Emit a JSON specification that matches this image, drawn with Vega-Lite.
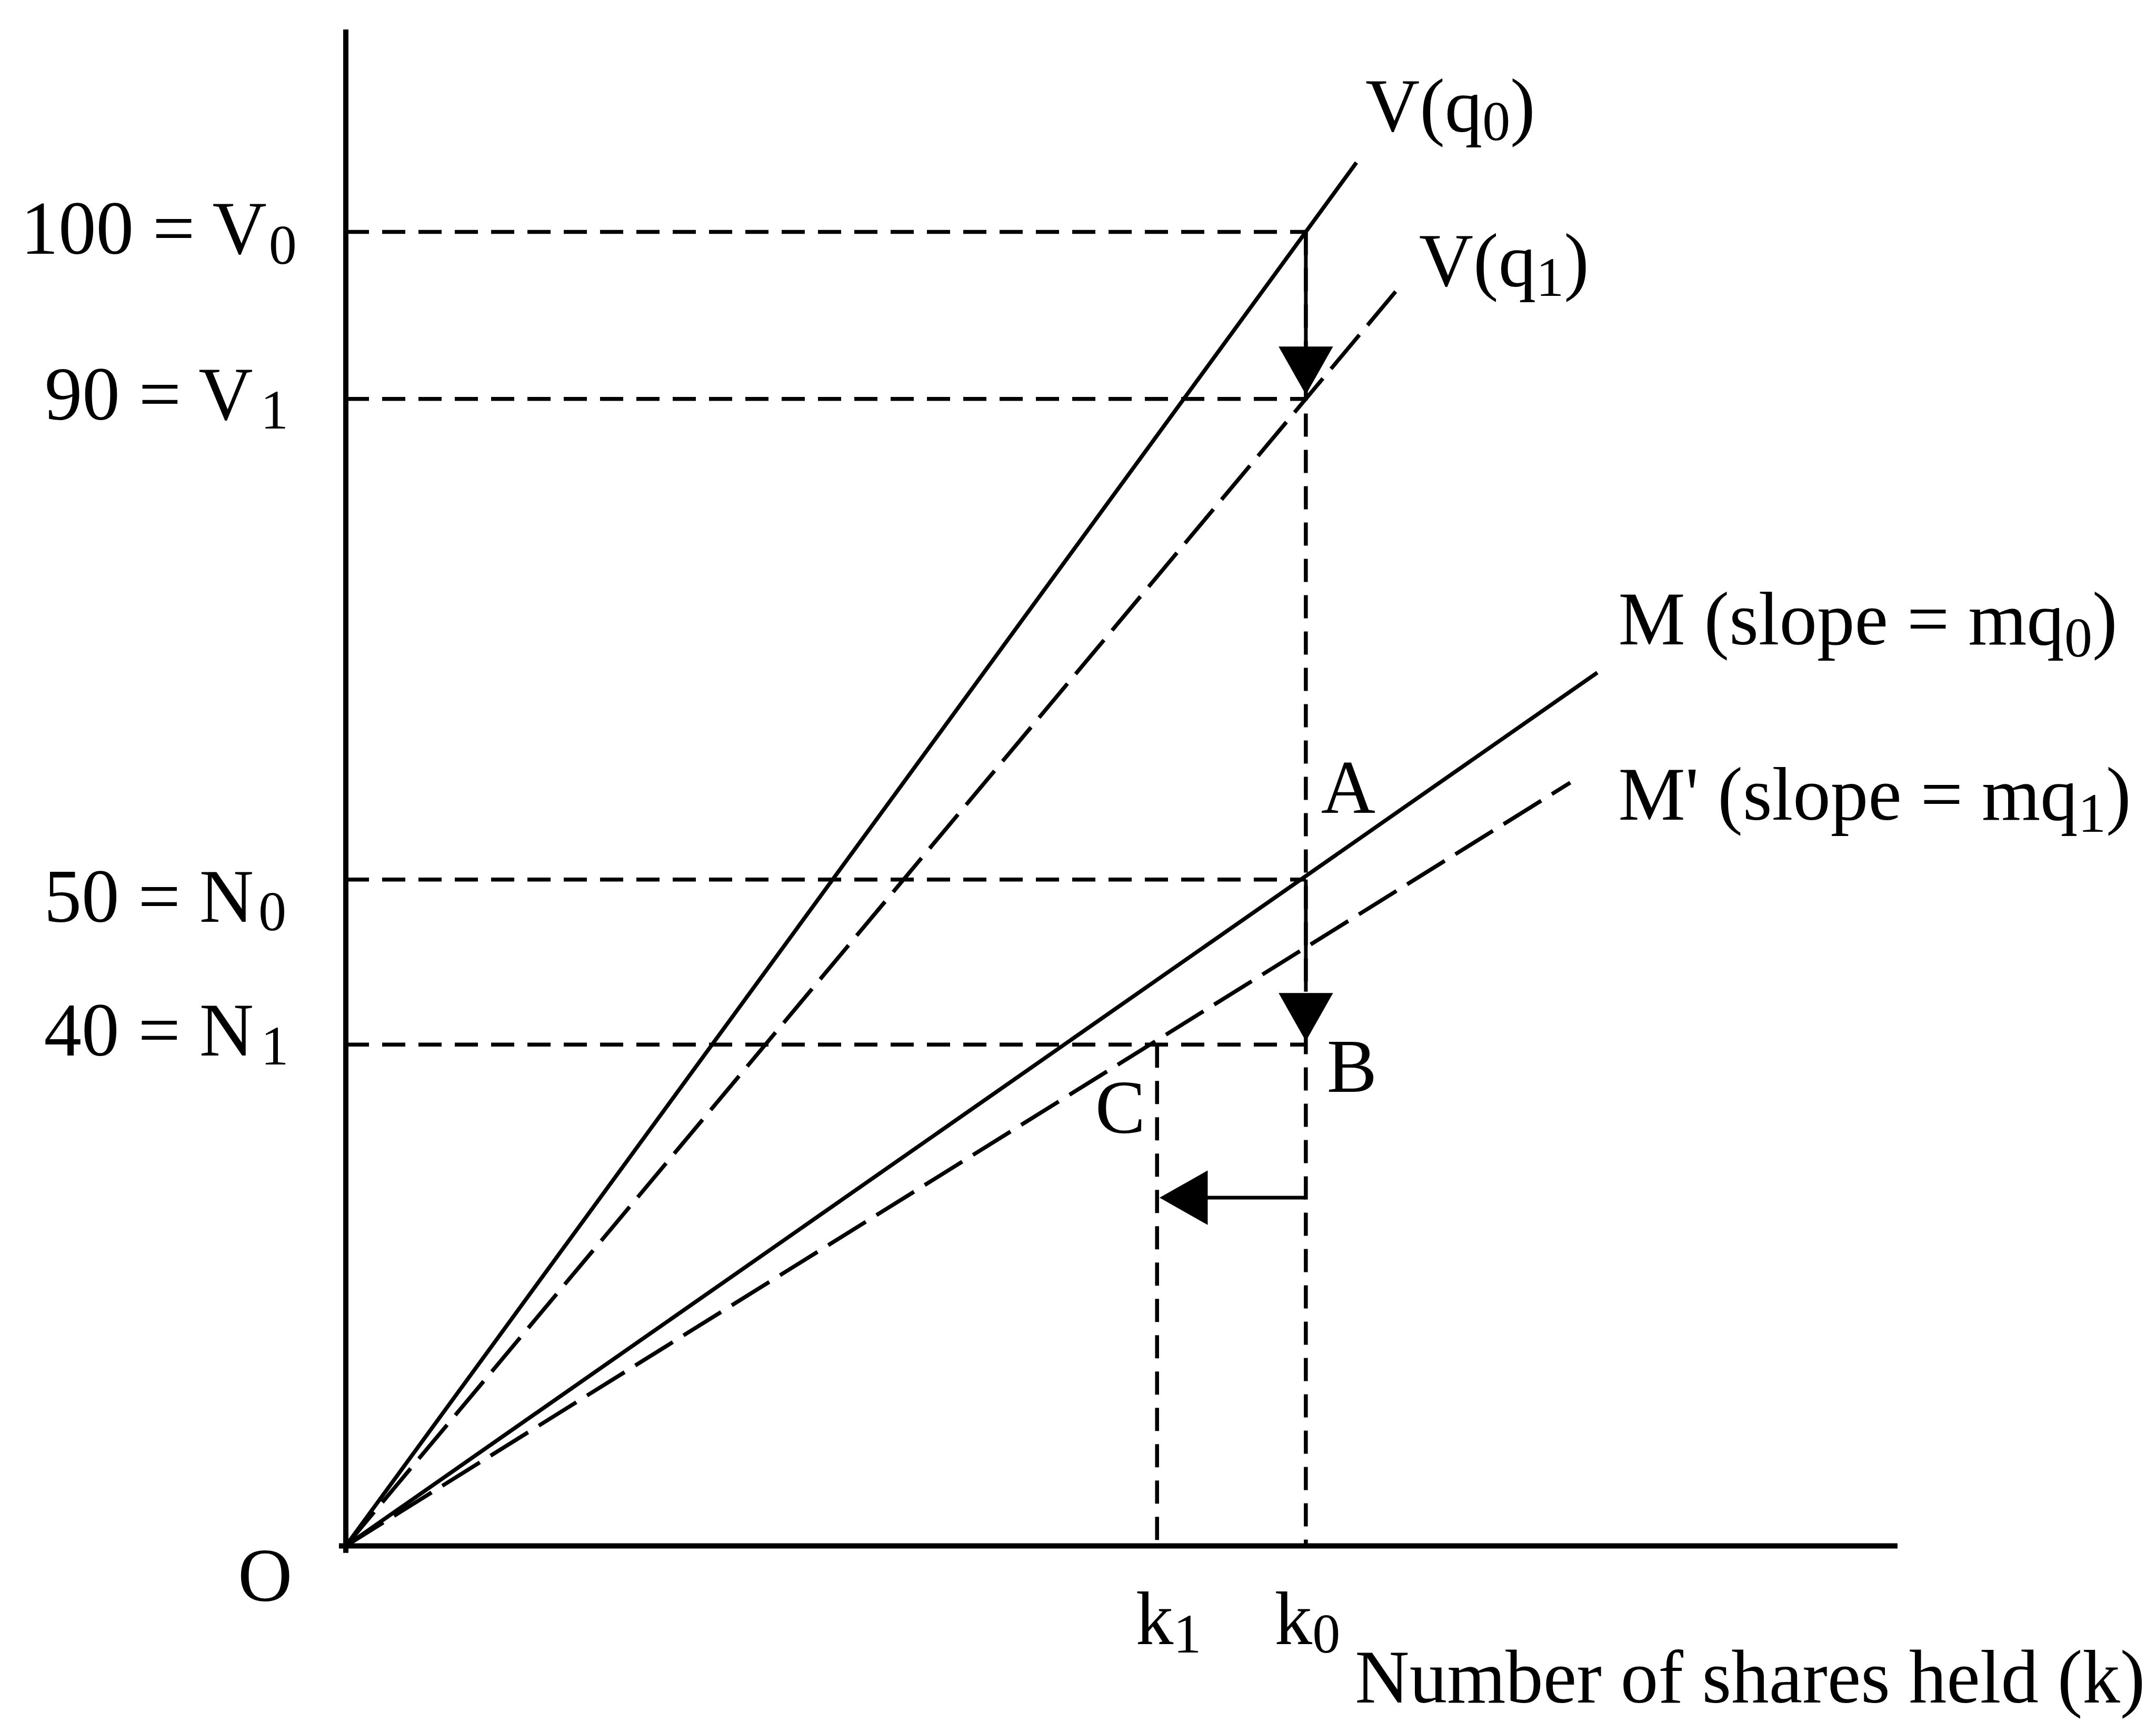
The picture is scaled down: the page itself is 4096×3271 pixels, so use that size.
{
  "$schema": "https://vega.github.io/schema/vega-lite/v6.json",
  "width": 4096,
  "height": 3271,
  "padding": 0,
  "autosize": {"type": "none"},
  "background": "white",
  "config": {"view": {"stroke": null}, "text": {"font": "Liberation Serif", "color": "black"}},
  "datasets": {
    "segments": [
      {"kind": "axis", "name": "vertical axis", "x": 0, "y": -5, "x2": 0, "y2": 1102.6},
      {"kind": "axis", "name": "horizontal axis", "x": -5, "y": 0, "x2": 1128.5, "y2": 0},
      {"kind": "line", "name": "V(q0)", "x": 0, "y": 0, "x2": 735, "y2": 1005.8},
      {"kind": "line", "name": "M", "x": 0, "y": 0, "x2": 910.2, "y2": 635},
      {"kind": "shifted", "name": "V(q1)", "x": 0, "y": 0, "x2": 763.5, "y2": 912},
      {"kind": "shifted", "name": "M'", "x": 0, "y": 0, "x2": 890.5, "y2": 555},
      {"kind": "guide", "name": "V0", "x": 0, "y": 955.4, "x2": 698.2, "y2": 955.4},
      {"kind": "guide", "name": "V1", "x": 0, "y": 834, "x2": 698.2, "y2": 834},
      {"kind": "guide", "name": "N0", "x": 0, "y": 484.5, "x2": 698.2, "y2": 484.5},
      {"kind": "guide", "name": "N1", "x": 0, "y": 364.5, "x2": 698.2, "y2": 364.5},
      {"kind": "guide", "name": "k0", "x": 698.2, "y": 955.4, "x2": 698.2, "y2": 0},
      {"kind": "guide", "name": "k1", "x": 590, "y": 364.5, "x2": 590, "y2": 0},
      {"kind": "arrow", "name": "V0 to V1", "x": 698.2, "y": 955.4, "x2": 698.2, "y2": 872},
      {"kind": "arrow", "name": "A to B", "x": 698.2, "y": 484.5, "x2": 698.2, "y2": 403},
      {"kind": "arrow", "name": "k0 to k1", "x": 698.2, "y": 253.2, "x2": 626, "y2": 253.2}
    ],
    "heads": [
      {"dir": "down", "x": 698.2, "y": 837},
      {"dir": "down", "x": 698.2, "y": 367},
      {"dir": "left", "x": 591.8, "y": 253.2}
    ],
    "valueLabels": [
      {"text": "100 = V", "x": -57.5, "y": 939.6},
      {"text": "90 = V", "x": -67.5, "y": 819},
      {"text": "50 = N", "x": -67, "y": 453.7},
      {"text": "40 = N", "x": -67, "y": 356.4}
    ],
    "labels": [
      {"text": "O", "x": -78.5, "y": -40},
      {"text": "k", "x": 574.5, "y": -71.5},
      {"text": "k", "x": 675.5, "y": -71.5},
      {"text": "Number of shares held (k)", "x": 734, "y": -114},
      {"text": "V(q", "x": 741.5, "y": 1028.6},
      {"text": ")", "x": 846.8, "y": 1028.6},
      {"text": "V(q", "x": 780.5, "y": 916},
      {"text": ")", "x": 885.9, "y": 916},
      {"text": "M (slope = mq", "x": 925.5, "y": 655.6},
      {"text": ")", "x": 1270.2, "y": 655.6},
      {"text": "M' (slope = mq", "x": 925.5, "y": 528},
      {"text": ")", "x": 1280.1, "y": 528},
      {"text": "A", "x": 709.3, "y": 533},
      {"text": "B", "x": 713.5, "y": 330.3},
      {"text": "C", "x": 545, "y": 300.3}
    ],
    "subscripts": [
      {"text": "0", "x": -56, "y": 932.2},
      {"text": "1", "x": -62, "y": 812.4},
      {"text": "0", "x": -63.5, "y": 447.5},
      {"text": "1", "x": -61.8, "y": 350},
      {"text": "1", "x": 601.9, "y": -77.5},
      {"text": "0", "x": 702.9, "y": -77.5},
      {"text": "0", "x": 826.6, "y": 1022.2},
      {"text": "1", "x": 865.6, "y": 909},
      {"text": "0", "x": 1249.9, "y": 646.6},
      {"text": "1", "x": 1259.8, "y": 519.4}
    ]
  },
  "encoding": {
    "x": {"field": "x", "type": "quantitative", "scale": {"domain": [-251.5, 1316.5], "nice": false, "zero": false}, "axis": null},
    "y": {"field": "y", "type": "quantitative", "scale": {"domain": [-128, 1124], "nice": false, "zero": false}, "axis": null}
  },
  "layer": [
    {
      "data": {"name": "segments"},
      "transform": [{"filter": "datum.kind === 'guide'"}],
      "mark": {"type": "rule", "color": "black", "strokeWidth": 7.5, "strokeDash": [44, 25]},
      "encoding": {"x2": {"field": "x2"}, "y2": {"field": "y2"}}
    },
    {
      "data": {"name": "segments"},
      "transform": [{"filter": "datum.kind === 'shifted'"}],
      "mark": {"type": "rule", "color": "black", "strokeWidth": 7.5, "strokeDash": [84, 24]},
      "encoding": {"x2": {"field": "x2"}, "y2": {"field": "y2"}}
    },
    {
      "data": {"name": "segments"},
      "transform": [{"filter": "datum.kind === 'line'"}],
      "mark": {"type": "rule", "color": "black", "strokeWidth": 7.5},
      "encoding": {"x2": {"field": "x2"}, "y2": {"field": "y2"}}
    },
    {
      "data": {"name": "segments"},
      "transform": [{"filter": "datum.kind === 'axis'"}],
      "mark": {"type": "rule", "color": "black", "strokeWidth": 10},
      "encoding": {"x2": {"field": "x2"}, "y2": {"field": "y2"}}
    },
    {
      "data": {"name": "segments"},
      "transform": [{"filter": "datum.kind === 'arrow'"}],
      "mark": {"type": "rule", "color": "black", "strokeWidth": 7},
      "encoding": {"x2": {"field": "x2"}, "y2": {"field": "y2"}}
    },
    {
      "data": {"name": "heads"},
      "transform": [{"filter": "datum.dir === 'down'"}],
      "mark": {"type": "point", "shape": "M0,0L-1,-1.77L1,-1.77Z", "size": 10692, "filled": true, "color": "black", "opacity": 1, "strokeWidth": 0}
    },
    {
      "data": {"name": "heads"},
      "transform": [{"filter": "datum.dir === 'left'"}],
      "mark": {"type": "point", "shape": "M0,0L1.77,-1L1.77,1Z", "size": 10692, "filled": true, "color": "black", "opacity": 1, "strokeWidth": 0}
    },
    {
      "data": {"name": "valueLabels"},
      "mark": {"type": "text", "align": "right", "baseline": "alphabetic", "fontSize": 143},
      "encoding": {"text": {"field": "text"}}
    },
    {
      "data": {"name": "labels"},
      "mark": {"type": "text", "align": "left", "baseline": "alphabetic", "fontSize": 143},
      "encoding": {"text": {"field": "text"}}
    },
    {
      "data": {"name": "subscripts"},
      "mark": {"type": "text", "align": "left", "baseline": "alphabetic", "fontSize": 106},
      "encoding": {"text": {"field": "text"}}
    }
  ]
}
